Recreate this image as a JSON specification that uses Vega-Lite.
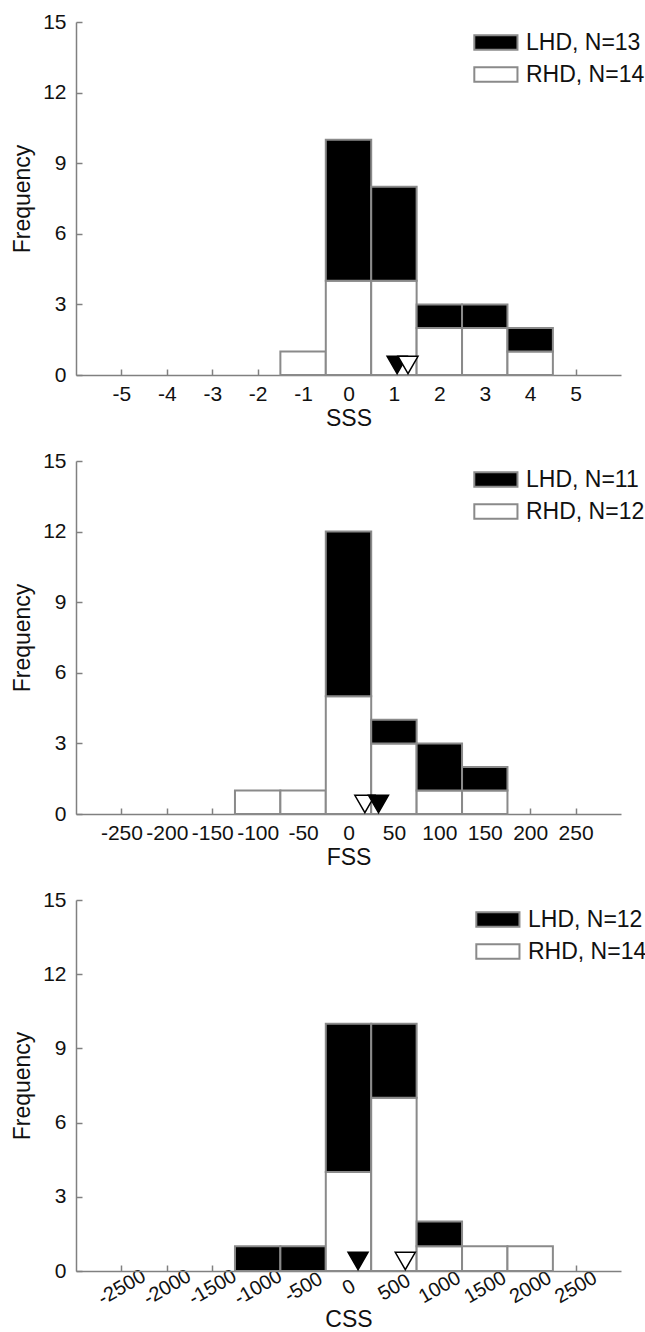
{
  "$schema": "https://vega.github.io/schema/vega-lite/v6.json",
  "background": "white",
  "padding": {"left": 11, "top": 11, "right": 5, "bottom": 0},
  "bounds": "flush",
  "spacing": 86,
  "config": {
    "font": "Liberation Sans",
    "view": {"stroke": null},
    "axis": {
      "domainColor": "#808080", "domainWidth": 1.5,
      "tickColor": "#808080", "tickWidth": 1.5, "tickSize": -6,
      "labelFont": "Liberation Sans", "labelFontSize": 21, "labelColor": "#111111",
      "titleFont": "Liberation Sans", "titleFontSize": 23, "titleFontWeight": "normal", "titleColor": "#111111",
      "grid": false, "labelOverlap": false, "labelExpr": "toString(datum.value)"
    },
    "axisX": {"labelPadding": 14, "titlePadding": 3, "labelFlush": false},
    "axisY": {"labelPadding": 16, "titlePadding": 8},
    "legend": {
      "orient": "none", "title": null, "padding": 0,
      "labelFont": "Liberation Sans", "labelFontSize": 23, "labelColor": "#111111",
      "symbolType": "M-1,-1H5V1H-1Z", "symbolSize": 207,
      "symbolStrokeColor": "#8a8a8a", "symbolStrokeWidth": 2,
      "labelOffset": 33, "rowPadding": 8
    }
  },
  "datasets": {
    "bars": [
      {"panel": "SSS", "g": "RHD", "x0": -1.5, "x1": -0.5, "n": 1},
      {"panel": "SSS", "g": "RHD", "x0": -0.5, "x1": 0.5, "n": 4},
      {"panel": "SSS", "g": "LHD", "x0": -0.5, "x1": 0.5, "n": 6},
      {"panel": "SSS", "g": "RHD", "x0": 0.5, "x1": 1.5, "n": 4},
      {"panel": "SSS", "g": "LHD", "x0": 0.5, "x1": 1.5, "n": 4},
      {"panel": "SSS", "g": "RHD", "x0": 1.5, "x1": 2.5, "n": 2},
      {"panel": "SSS", "g": "LHD", "x0": 1.5, "x1": 2.5, "n": 1},
      {"panel": "SSS", "g": "RHD", "x0": 2.5, "x1": 3.5, "n": 2},
      {"panel": "SSS", "g": "LHD", "x0": 2.5, "x1": 3.5, "n": 1},
      {"panel": "SSS", "g": "RHD", "x0": 3.5, "x1": 4.5, "n": 1},
      {"panel": "SSS", "g": "LHD", "x0": 3.5, "x1": 4.5, "n": 1},
      {"panel": "FSS", "g": "RHD", "x0": -125, "x1": -75, "n": 1},
      {"panel": "FSS", "g": "RHD", "x0": -75, "x1": -25, "n": 1},
      {"panel": "FSS", "g": "RHD", "x0": -25, "x1": 25, "n": 5},
      {"panel": "FSS", "g": "LHD", "x0": -25, "x1": 25, "n": 7},
      {"panel": "FSS", "g": "RHD", "x0": 25, "x1": 75, "n": 3},
      {"panel": "FSS", "g": "LHD", "x0": 25, "x1": 75, "n": 1},
      {"panel": "FSS", "g": "RHD", "x0": 75, "x1": 125, "n": 1},
      {"panel": "FSS", "g": "LHD", "x0": 75, "x1": 125, "n": 2},
      {"panel": "FSS", "g": "RHD", "x0": 125, "x1": 175, "n": 1},
      {"panel": "FSS", "g": "LHD", "x0": 125, "x1": 175, "n": 1},
      {"panel": "CSS", "g": "LHD", "x0": -1250, "x1": -750, "n": 1},
      {"panel": "CSS", "g": "LHD", "x0": -750, "x1": -250, "n": 1},
      {"panel": "CSS", "g": "RHD", "x0": -250, "x1": 250, "n": 4},
      {"panel": "CSS", "g": "LHD", "x0": -250, "x1": 250, "n": 6},
      {"panel": "CSS", "g": "RHD", "x0": 250, "x1": 750, "n": 7},
      {"panel": "CSS", "g": "LHD", "x0": 250, "x1": 750, "n": 3},
      {"panel": "CSS", "g": "RHD", "x0": 750, "x1": 1250, "n": 1},
      {"panel": "CSS", "g": "LHD", "x0": 750, "x1": 1250, "n": 1},
      {"panel": "CSS", "g": "RHD", "x0": 1250, "x1": 1750, "n": 1},
      {"panel": "CSS", "g": "RHD", "x0": 1750, "x1": 2250, "n": 1}
    ],
    "means": [
      {"panel": "SSS", "g": "LHD", "m": 1.07},
      {"panel": "SSS", "g": "RHD", "m": 1.31},
      {"panel": "FSS", "g": "RHD", "m": 18},
      {"panel": "FSS", "g": "LHD", "m": 33},
      {"panel": "CSS", "g": "LHD", "m": 105},
      {"panel": "CSS", "g": "RHD", "m": 625}
    ]
  },
  "resolve": {"scale": {"x": "independent", "y": "independent", "fill": "independent"}, "legend": {"fill": "independent"}},
  "vconcat": [
    {
      "width": 545, "height": 353,
      "layer": [
        {
          "data": {"name": "bars"},
          "transform": [
            {"filter": "datum.panel == 'SSS'"},
            {"stack": "n", "groupby": ["x0"], "sort": [{"field": "g", "order": "descending"}], "as": ["y0", "y1"]}
          ],
          "mark": {"type": "bar", "stroke": "#8a8a8a", "strokeWidth": 2},
          "encoding": {
            "x": {"field": "x0", "type": "quantitative", "scale": {"domain": [-6, 6], "nice": false, "zero": false},
                  "axis": {"values": [-5, -4, -3, -2, -1, 0, 1, 2, 3, 4, 5], "title": "SSS"}},
            "x2": {"field": "x1"},
            "y": {"field": "y0", "type": "quantitative", "scale": {"domain": [0, 15], "nice": false},
                  "axis": {"values": [0, 3, 6, 9, 12, 15], "title": "Frequency"}},
            "y2": {"field": "y1"},
            "fill": {"field": "g", "type": "nominal", "scale": {"domain": ["LHD", "RHD"], "range": ["#000000", "#ffffff"]},
                     "legend": {"legendX": 394, "legendY": 9, "symbolType": "M-1,-1H5V1H-1Z",
                                "labelExpr": "datum.label == 'LHD' ? 'LHD, N=13' : 'RHD, N=14'"}}
          }
        },
        {
          "data": {"name": "means"},
          "transform": [{"filter": "datum.panel == 'SSS'"}],
          "mark": {"type": "point", "shape": "triangle-down", "size": 400, "filled": true, "opacity": 1,
                   "stroke": "#000000", "strokeWidth": 1.5, "yOffset": -10},
          "encoding": {
            "x": {"field": "m", "type": "quantitative"},
            "y": {"datum": 0},
            "fill": {"condition": {"test": "datum.g == 'LHD'", "value": "#000000"}, "value": "#ffffff"}
          }
        }
      ]
    },
    {
      "width": 545, "height": 353,
      "layer": [
        {
          "data": {"name": "bars"},
          "transform": [
            {"filter": "datum.panel == 'FSS'"},
            {"stack": "n", "groupby": ["x0"], "sort": [{"field": "g", "order": "descending"}], "as": ["y0", "y1"]}
          ],
          "mark": {"type": "bar", "stroke": "#8a8a8a", "strokeWidth": 2},
          "encoding": {
            "x": {"field": "x0", "type": "quantitative", "scale": {"domain": [-300, 300], "nice": false, "zero": false},
                  "axis": {"values": [-250, -200, -150, -100, -50, 0, 50, 100, 150, 200, 250], "title": "FSS"}},
            "x2": {"field": "x1"},
            "y": {"field": "y0", "type": "quantitative", "scale": {"domain": [0, 15], "nice": false},
                  "axis": {"values": [0, 3, 6, 9, 12, 15], "title": "Frequency"}},
            "y2": {"field": "y1"},
            "fill": {"field": "g", "type": "nominal", "scale": {"domain": ["LHD", "RHD"], "range": ["#000000", "#ffffff"]},
                     "legend": {"legendX": 394, "legendY": 7, "symbolType": "M-1,-1H5V1H-1Z",
                                "labelExpr": "datum.label == 'LHD' ? 'LHD, N=11' : 'RHD, N=12'"}}
          }
        },
        {
          "data": {"name": "means"},
          "transform": [{"filter": "datum.panel == 'FSS'"}],
          "mark": {"type": "point", "shape": "triangle-down", "size": 400, "filled": true, "opacity": 1,
                   "stroke": "#000000", "strokeWidth": 1.5, "yOffset": -10},
          "encoding": {
            "x": {"field": "m", "type": "quantitative"},
            "y": {"datum": 0},
            "fill": {"condition": {"test": "datum.g == 'LHD'", "value": "#000000"}, "value": "#ffffff"}
          }
        }
      ]
    },
    {
      "width": 545, "height": 371,
      "layer": [
        {
          "data": {"name": "bars"},
          "transform": [
            {"filter": "datum.panel == 'CSS'"},
            {"stack": "n", "groupby": ["x0"], "sort": [{"field": "g", "order": "descending"}], "as": ["y0", "y1"]}
          ],
          "mark": {"type": "bar", "stroke": "#8a8a8a", "strokeWidth": 2},
          "encoding": {
            "x": {"field": "x0", "type": "quantitative", "scale": {"domain": [-3000, 3000], "nice": false, "zero": false},
                  "axis": {"values": [-2500, -2000, -1500, -1000, -500, 0, 500, 1000, 1500, 2000, 2500], "title": "CSS",
                           "labelAngle": -30, "labelAlign": "center", "labelBaseline": "middle", "labelFontSize": 20,
                           "labelPadding": 22, "titlePadding": 0}},
            "x2": {"field": "x1"},
            "y": {"field": "y0", "type": "quantitative", "scale": {"domain": [0, 15], "nice": false},
                  "axis": {"values": [0, 3, 6, 9, 12, 15], "title": "Frequency"}},
            "y2": {"field": "y1"},
            "fill": {"field": "g", "type": "nominal", "scale": {"domain": ["LHD", "RHD"], "range": ["#000000", "#ffffff"]},
                     "legend": {"legendX": 396, "legendY": 8, "symbolType": "M-1,-1H5V1H-1Z",
                                "labelExpr": "datum.label == 'LHD' ? 'LHD, N=12' : 'RHD, N=14'"}}
          }
        },
        {
          "data": {"name": "means"},
          "transform": [{"filter": "datum.panel == 'CSS'"}],
          "mark": {"type": "point", "shape": "triangle-down", "size": 400, "filled": true, "opacity": 1,
                   "stroke": "#000000", "strokeWidth": 1.5, "yOffset": -10},
          "encoding": {
            "x": {"field": "m", "type": "quantitative"},
            "y": {"datum": 0},
            "fill": {"condition": {"test": "datum.g == 'LHD'", "value": "#000000"}, "value": "#ffffff"}
          }
        }
      ]
    }
  ]
}
